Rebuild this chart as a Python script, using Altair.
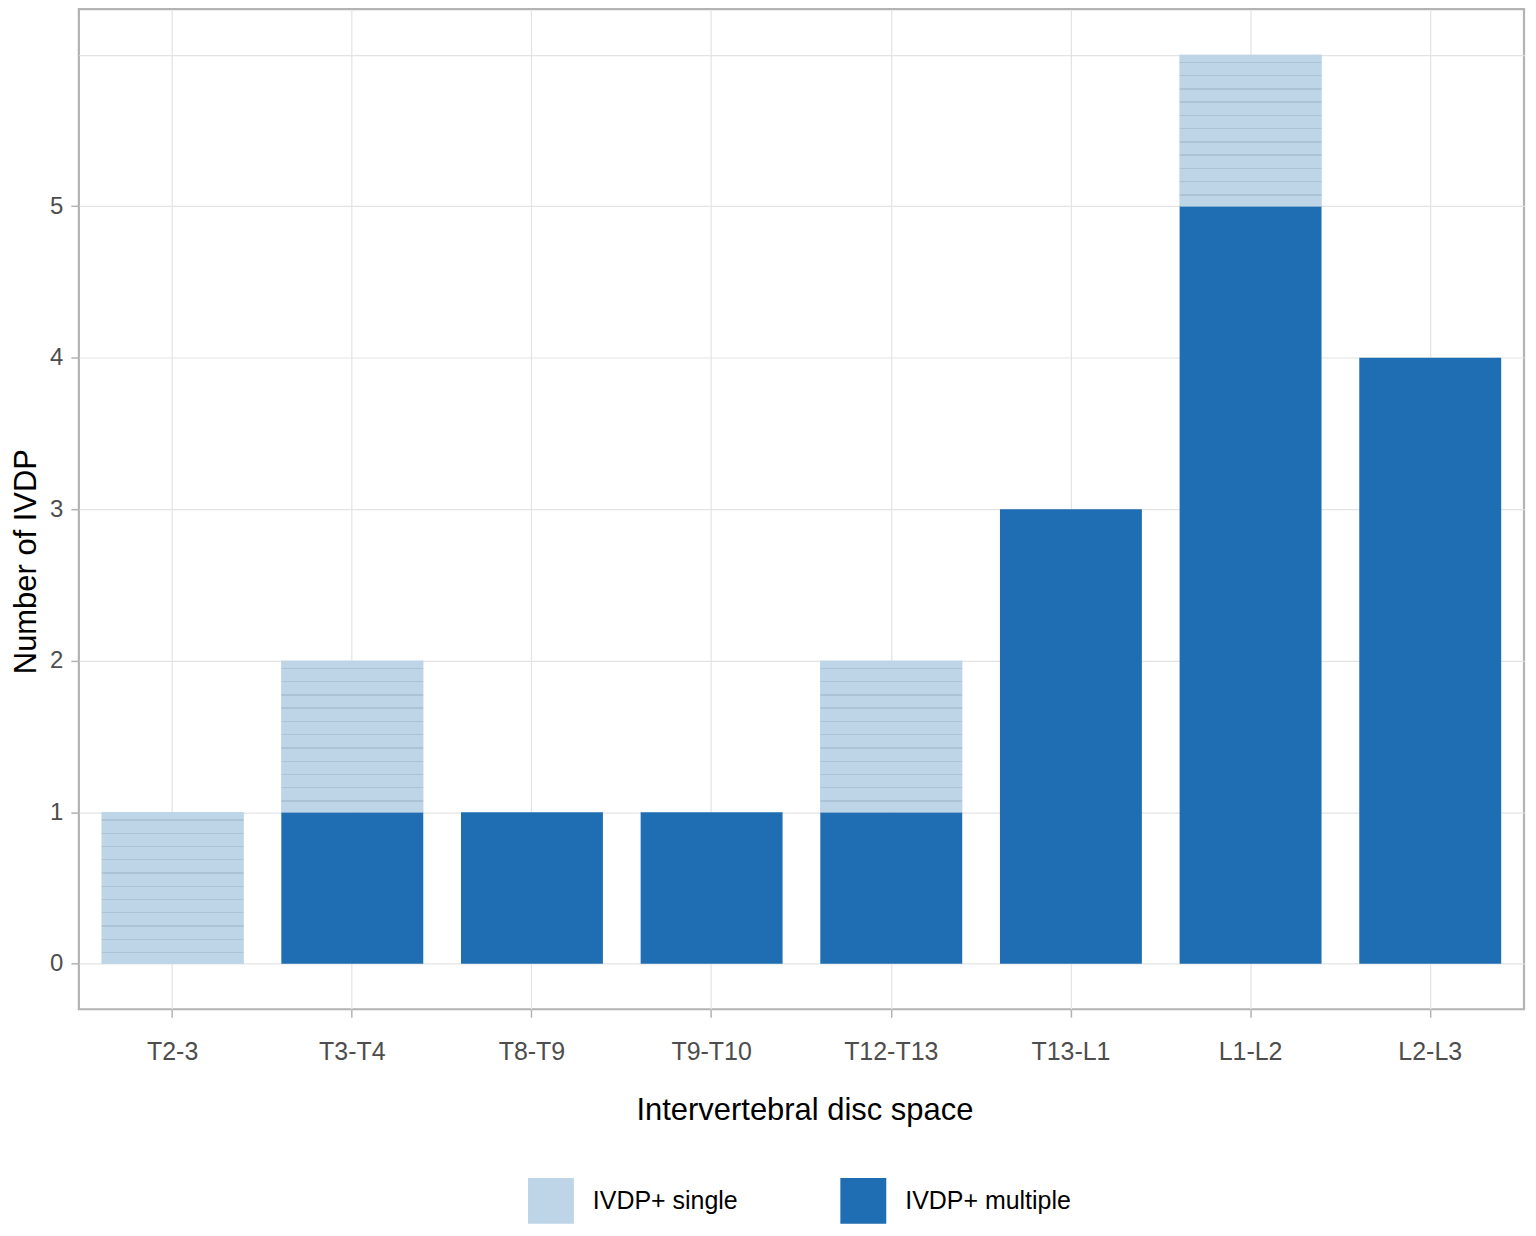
import altair as alt
import pandas as pd

# ---- data ----
discs = ["T2-3", "T3-T4", "T8-T9", "T9-T10", "T12-T13", "T13-L1", "L1-L2", "L2-L3"]
single = [1, 1, 0, 0, 1, 0, 1, 0]
multiple = [0, 1, 1, 1, 1, 3, 5, 4]
groups = ["IVDP+ single", "IVDP+ multiple"]
y_grid = [0, 0.5, 1, 1.5, 2, 2.5, 3, 3.5, 4, 4.5, 5, 5.5, 6]

rows = []
for d, s, m in zip(discs, single, multiple):
    rows.append({"disc": d, "group": groups[1], "count": m, "order": 0})
    rows.append({"disc": d, "group": groups[0], "count": s, "order": 1})
df = pd.DataFrame(rows)

LIGHT = "#bdd5e7"
DARK = "#1f6eb3"
STRIPE = "#abc3d5"
FONT = "Liberation Sans"

# horizontal-line texture for the single bars (style only)
stops = [{"offset": 0, "color": LIGHT}]
for k in range(11):
    c = (7.7 + 13.3 * k) / 152.0
    a, b = c - 0.0045, c + 0.0045
    stops += [
        {"offset": a, "color": LIGHT},
        {"offset": a, "color": STRIPE},
        {"offset": b, "color": STRIPE},
        {"offset": b, "color": LIGHT},
    ]
stops.append({"offset": 1, "color": LIGHT})
stripes = {"gradient": "linear", "x1": 0, "y1": 0, "x2": 0, "y2": 1, "stops": stops}

x_enc = alt.X(
    "disc:N",
    sort=discs,
    scale=alt.Scale(paddingInner=0.21, paddingOuter=0.127),
    axis=alt.Axis(
        title="Intervertebral disc space",
        labelAngle=0,
        labelFontSize=25,
        labelPadding=22,
        tickSize=8,
        titleFontSize=31,
        titlePadding=31,
        titleX=727,
        grid=True,
    ),
)
y_enc = alt.Y(
    "y0:Q",
    scale=alt.Scale(domain=[-0.3, 6.3], nice=False, zero=False),
    axis=alt.Axis(
        title="Number of IVDP",
        values=y_grid,
        format="d",
        labelExpr="(datum.value % 1 === 0 && datum.value <= 5) ? datum.label : ''",
        tickColor={
            "condition": {"test": "datum.value % 1 === 0 && datum.value <= 5", "value": "#b3b3b3"},
            "value": "transparent",
        },
        labelFontSize=24,
        labelPadding=8,
        labelFlush=False,
        labelOverlap=False,
        tickSize=8,
        titleFontSize=31,
        titleX=-36,
        titleY=553,
        titleBaseline="bottom",
        titleAngle=270,
        grid=True,
    ),
)

base = (
    alt.Chart(df)
    .transform_stack(
        stack="count",
        groupby=["disc"],
        as_=["y0", "y1"],
        sort=[alt.SortField("order", order="ascending")],
    )
    .transform_filter("datum.count > 0")
)

bars = base.mark_bar(strokeWidth=0).encode(
    x=x_enc,
    y=y_enc,
    y2="y1:Q",
    color=alt.Color(
        "group:N",
        scale=alt.Scale(domain=groups, range=[LIGHT, DARK]),
        legend=alt.Legend(
            title=None,
            orient="none",
            direction="horizontal",
            legendX=450,
            legendY=1171,
            symbolType="square",
            symbolSize=2116,
            symbolStrokeWidth=0,
            symbolOpacity=1,
            labelFontSize=25,
            labelFont=FONT,
            labelColor="#000000",
            labelOffset=19,
            labelLimit=500,
            columnPadding=102,
            padding=0,
        ),
    ),
)

texture = (
    base.transform_filter(alt.datum.group == groups[0])
    .mark_bar(fill=stripes, strokeWidth=0)
    .encode(x=x_enc, y=y_enc, y2="y1:Q")
)

chart = (
    alt.layer(bars, texture)
    .properties(
        width=1448,
        height=1002,
        padding={"left": 71, "top": 0, "right": 4, "bottom": 216},
        autosize=alt.AutoSizeParams(type="none"),
        background="white",
    )
    .configure_view(stroke="#b3b3b3", strokeWidth=2.2)
    .configure_axis(
        domain=False,
        gridColor="#e3e3e3",
        gridWidth=1.2,
        tickColor="#b3b3b3",
        tickWidth=1.5,
        labelFont=FONT,
        labelColor="#4d4d4d",
        titleFont=FONT,
        titleColor="#000000",
        titleFontWeight="normal",
    )
)

chart.save("out.html", embed_options={"renderer": "svg", "actions": False})
